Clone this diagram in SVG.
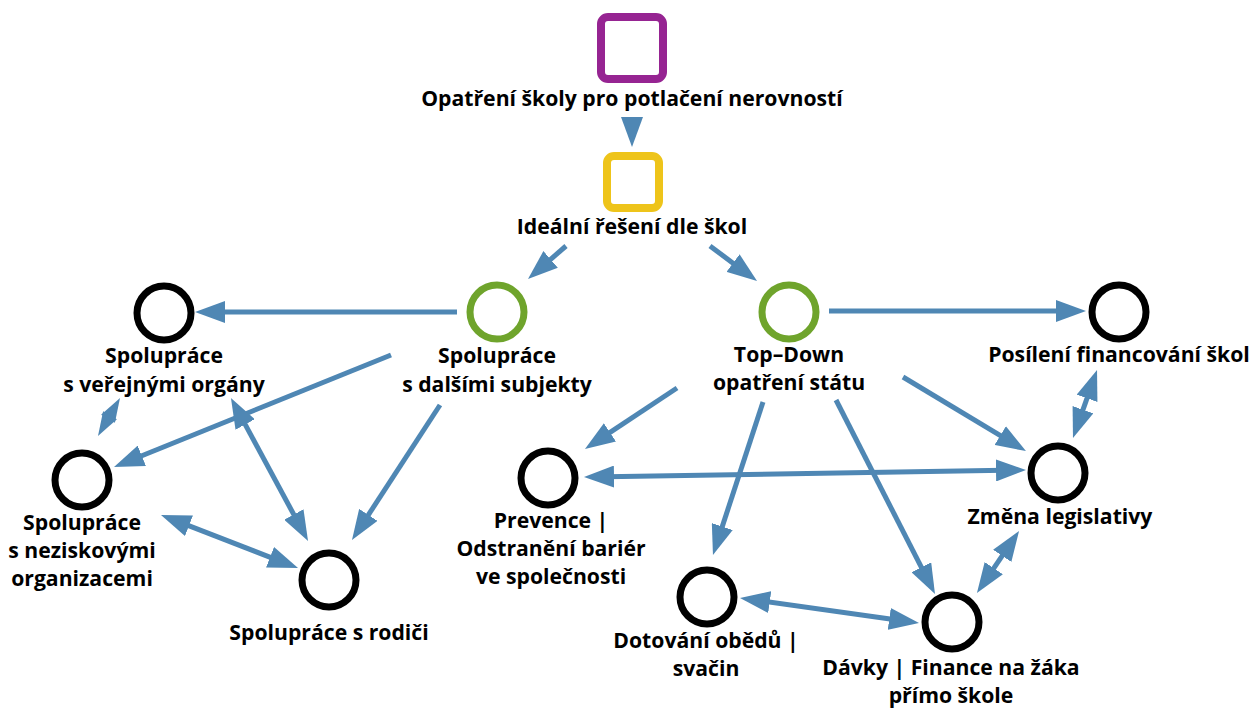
<svg xmlns="http://www.w3.org/2000/svg" width="1252" height="711" viewBox="0 0 1252 711">
<style>
text{font-family:"Open Sans","Noto Sans","Liberation Sans",sans-serif;font-weight:700;font-size:21.2px;fill:#000;text-anchor:middle}
.c{fill:#fff;stroke:#000;stroke-width:7}
.g{fill:#fff;stroke:#6fa42c;stroke-width:7}
.e{fill:none;stroke:#4f87b4;stroke-width:5}
.a{marker-end:url(#h)}
.b{marker-start:url(#h);marker-end:url(#h)}
.hd{fill:#4f87b4}
</style>
<defs>
<marker id="h" markerUnits="userSpaceOnUse" markerWidth="30" markerHeight="22" refX="8" refY="11" orient="auto-start-reverse" viewBox="0 0 30 22">
<path d="M0,0 L30,11 L0,22 z" fill="#4f87b4"/>
</marker>
</defs>
<rect width="1252" height="711" fill="#fff"/>
<g id="connectors">
<path class="e a" d="M632,118 L632,125"/>
<path class="e a" d="M566,246 L544.6,264.6"/>
<path class="e a" d="M710,246 L739.4,267.9"/>
<path class="e a" d="M457,312 L217,312"/>
<path class="e a" d="M391,355 L134.4,458.8"/>
<path class="e a" d="M440,405 L364,521.6"/>
<polygon class="hd" points="120,398 114.9,422.8 101.1,414.8"/>
<polygon class="hd" points="98,436 116.9,419.2 103.1,411.2"/>
<path class="e b" d="M241.4,417.4 L297.6,521.6"/>
<path class="e b" d="M181.5,522.9 L277.5,560.1"/>
<path class="e a" d="M829,311 L1064,311"/>
<path class="e a" d="M677,388 L603.3,436.8"/>
<path class="e a" d="M763,402 L719.8,534.1"/>
<path class="e a" d="M836,400 L925,574.4"/>
<path class="e a" d="M903,377 L1007.1,439.7"/>
<path class="e b" d="M606,476.7 L1004,470.3"/>
<path class="e b" d="M1089.7,390.7 L1080.3,417.3"/>
<path class="e b" d="M1006.7,549.2 L989.3,574.8"/>
<path class="e b" d="M761.8,601 L897.2,620"/>
</g>
<g id="n-opatreni">
<rect x="601" y="17" width="62" height="62" rx="7" fill="#fff" stroke="#962492" stroke-width="8"/>
<text x="632" y="106">Opatření školy pro potlačení nerovností</text>
</g>
<g id="n-idealni">
<rect x="607" y="156" width="52" height="52" rx="7" fill="#fff" stroke="#eec41a" stroke-width="8"/>
<text x="632" y="234">Ideální řešení dle škol</text>
</g>
<g id="n-dalsi">
<circle class="g" cx="497" cy="312" r="27"/>
<text x="497" y="363">Spolupráce</text>
<text x="497" y="392">s dalšími subjekty</text>
</g>
<g id="n-topdown">
<circle class="g" cx="789" cy="312" r="27"/>
<text x="789" y="362">Top–Down</text>
<text x="789" y="390">opatření státu</text>
</g>
<g id="n-verejne">
<circle class="c" cx="164" cy="313" r="27"/>
<text x="164" y="363">Spolupráce</text>
<text x="164" y="392">s veřejnými orgány</text>
</g>
<g id="n-posileni">
<circle class="c" cx="1119" cy="312" r="27"/>
<text x="1119" y="362">Posílení financování škol</text>
</g>
<g id="n-neziskove">
<circle class="c" cx="82" cy="480" r="27"/>
<text x="82" y="530">Spolupráce</text>
<text x="82" y="558">s neziskovými</text>
<text x="82" y="586">organizacemi</text>
</g>
<g id="n-rodice">
<circle class="c" cx="329" cy="580" r="27"/>
<text x="329" y="640">Spolupráce s rodiči</text>
</g>
<g id="n-prevence">
<circle class="c" cx="548" cy="478" r="27"/>
<text x="551" y="528">Prevence |</text>
<text x="551" y="556">Odstranění bariér</text>
<text x="551" y="584">ve společnosti</text>
</g>
<g id="n-zmena">
<circle class="c" cx="1058" cy="473" r="27"/>
<text x="1060" y="524">Změna legislativy</text>
</g>
<g id="n-dotovani">
<circle class="c" cx="707" cy="597" r="27"/>
<text x="706" y="648">Dotování obědů |</text>
<text x="706" y="676">svačin</text>
</g>
<g id="n-davky">
<circle class="c" cx="952" cy="622" r="27"/>
<text x="951" y="675">Dávky | Finance na žáka</text>
<text x="951" y="703">přímo škole</text>
</g>
</svg>
